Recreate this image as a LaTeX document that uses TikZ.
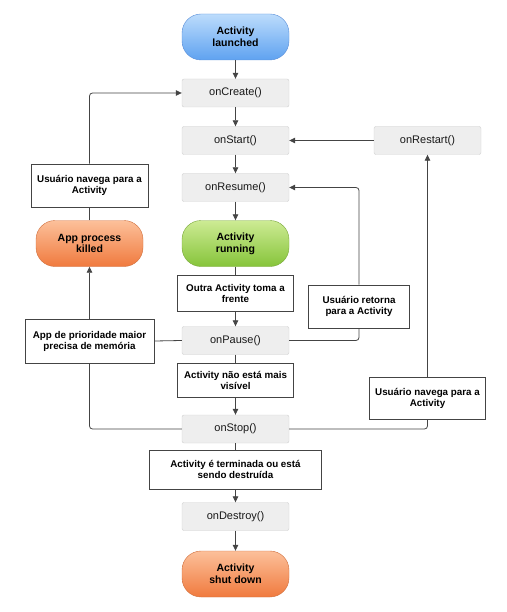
\documentclass[tikz,border=0pt]{standalone}
\usepackage{fontspec}
\setmainfont{Liberation Sans}
\usetikzlibrary{arrows.meta, positioning}

\definecolor{linegray}{HTML}{444444}
\definecolor{boxfill}{HTML}{EEEEEE}
\definecolor{boxline}{HTML}{CFCFCF}
\definecolor{bluetop}{HTML}{BCDCFC}
\definecolor{bluebot}{HTML}{5FA2F0}
\definecolor{blueline}{HTML}{5A8ED8}
\definecolor{greentop}{HTML}{CDEB94}
\definecolor{greenbot}{HTML}{86C43A}
\definecolor{greenline}{HTML}{7AA83A}
\definecolor{orangetop}{HTML}{FCC09A}
\definecolor{orangebot}{HTML}{F07A3E}
\definecolor{orangeline}{HTML}{D0703E}

\begin{document}
\begin{tikzpicture}[x=1pt, y=-1pt,
	callback/.style={draw=boxline, fill=boxfill, rounded corners=2pt, minimum width=107pt, minimum height=28pt, font=\fontsize{11}{13}\selectfont, text=black!90},
	cond/.style={draw=linegray, line width=0.9pt, fill=white, align=center, inner sep=2pt, font=\fontsize{9.8}{11}\selectfont\bfseries, text=black},
	pill/.style={draw=#1line, top color=#1top, bottom color=#1bot, rounded corners=19pt, minimum width=107pt, minimum height=46pt, align=center, font=\fontsize{10.5}{11.7}\selectfont\bfseries, text=black},
	flow/.style={draw=linegray, line width=0.8pt, rounded corners=3pt},
	->/.style={flow, -{Triangle[length=6pt, width=5.5pt]}}]
		\useasboundingbox (0,0) rectangle (506,612);
		% states
		\node[pill=blue] (launched) at (235.5,37) {Activity\\launched};
		\node[pill=green] (running) at (235.5,243.5) {Activity\\running};
		\node[pill=orange] (killed) at (89.5,243.5) {App process\\killed};
		\node[pill=orange] (shutdown) at (235.5,574) {Activity\\shut down};
		% callbacks
		\node[callback] (onCreate) at (235.5,93) {onCreate()};
		\node[callback] (onStart) at (235.5,140.5) {onStart()};
		\node[callback] (onRestart) at (427.5,140.5) {onRestart()};
		\node[callback] (onResume) at (235.5,187.5) {onResume()};
		\node[callback] (onPause) at (235.5,340.5) {onPause()};
		\node[callback] (onStop) at (235.5,429) {onStop()};
		\node[callback] (onDestroy) at (235.5,516.5) {onDestroy()};
		% conditions
		\node[cond, minimum width=117pt, minimum height=43pt] (navL) at (89.5,185.5) {Usuário navega para a\\Activity};
		\node[cond, minimum width=116pt, minimum height=36pt] (outra) at (235.5,293) {Outra Activity toma a\\frente};
		\node[cond, minimum width=101pt, minimum height=43pt] (retorna) at (359,306.5) {Usuário retorna\\para a Activity};
		\node[cond, minimum width=129pt, minimum height=44pt] (prioridade) at (89.5,341) {App de prioridade maior\\precisa de memória};
		\node[cond, minimum width=116pt, minimum height=34pt] (naovisivel) at (235.5,380) {Activity não está mais\\visível};
		\node[cond, minimum width=116pt, minimum height=42pt] (navR) at (427.5,398) {Usuário navega para a\\Activity};
		\node[cond, minimum width=172pt, minimum height=39pt] (terminada) at (235.5,469.5) {Activity é terminada ou está\\sendo destruída};

		% main column
		\draw[->] (launched) -- (onCreate);
		\draw[->] (onCreate) -- (onStart);
		\draw[->] (onStart) -- (onResume);
		\draw[->] (onResume) -- (running);
		\draw[flow] (running) -- (outra);
		\draw[->] (outra) -- (onPause);
		\draw[flow] (onPause) -- (naovisivel);
		\draw[->] (naovisivel) -- (onStop);
		\draw[flow] (onStop) -- (terminada);
		\draw[->] (terminada) -- (onDestroy);
		\draw[->] (onDestroy) -- (shutdown);
		% loops
		\draw[->] (onRestart) -- (onStart);
		\draw[flow] (onPause.east) -| (retorna.south);
		\draw[->] (retorna.north) |- (onResume.east);
		\draw[flow] (onStop.east) -| (navR.south);
		\draw[->] (navR.north) -- (onRestart.south);
		\draw[flow] (onStop.west) -| (prioridade.south);
		\draw[flow] (onPause.west) -- (prioridade.east);
		\draw[->] (prioridade.north) -- (killed.south);
		\draw[flow] (killed.north) -- (navL.south);
		\draw[->] (navL.north) |- (onCreate.west);
	\end{tikzpicture}
\end{document}
